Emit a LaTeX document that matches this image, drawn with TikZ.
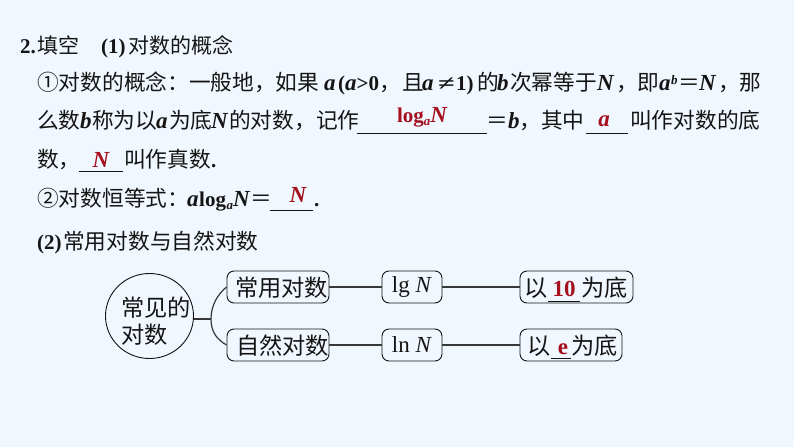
\documentclass[tikz,border=0pt]{standalone}
\usepackage{fontspec}
\usetikzlibrary{shapes.geometric}
\setmainfont{Liberation Serif}
\newfontfamily\cjk{Noto Sans CJK SC}
\newcommand{\C}[1]{{\cjk\fontsize{21.7pt}{24pt}\selectfont #1}}
\newcommand{\Ct}[1]{{\cjk\fontsize{21pt}{24pt}\selectfont #1}}
\newcommand{\Cb}[1]{{\cjk\fontsize{23.2pt}{26pt}\selectfont #1}}
\newcommand{\B}[1]{{\fontsize{21pt}{24pt}\selectfont\bfseries #1}}
\newcommand{\I}[1]{{\fontsize{23pt}{24pt}\selectfont\bfseries\itshape #1}}
\newcommand{\Sb}[1]{{\fontsize{13pt}{14pt}\selectfont\bfseries\itshape #1}}
\newcommand{\W}[2]{\makebox[#1pt][l]{#2}}
\definecolor{bg}{HTML}{F0F7FE}
\definecolor{ink}{HTML}{151515}
\definecolor{ans}{HTML}{A50F1E}
\tikzset{
 txt/.style={inner sep=0pt,anchor=base west,text=ink},
 anstxt/.style={inner sep=0pt,anchor=base,text=ans},
 blank/.style={draw=ink,line width=0.9pt},
 rbox/.style={draw=ink,line width=0.9pt,rounded corners=7pt,inner sep=0pt,fill=bg,text=ink},
 link/.style={draw=ink!85,line width=1.2pt}
}
\begin{document}
\begin{tikzpicture}[x=1pt,y=-1pt]
\path[use as bounding box,fill=bg] (0,0) rectangle (794,447);
% lines of text
\node[txt] (t0) at (20,53) {\W{17}{\B{2.}}\Ct{填空}};
\node[txt] (t0b) at (101,53) {\W{27}{\B{(1)}}\Ct{对数的概念}};
\node[txt] (l1a) at (37,90) {\W{287}{\C{①对数的概念：一般地，如果}}\W{14}{\I{a}}\B{(}\I{a}\B{>0}\C{，}};
\node[txt] (l1c) at (402,90) {\W{20}{\C{且}}\W{15}{\I{a}}\W{19}{\hspace{1pt}\scalebox{1.45}[1]{\B{≠}}}\W{21}{\B{1)}}\W{20}{\C{的}}\W{13}{\I{b}}\W{87}{\C{次幂等于}}\W{19}{\I{N}}\C{，}};
\node[txt] (l1d) at (637,90) {\W{22}{\C{即}}\W{12}{\I{a}}\raisebox{6pt}{\W{7}{\Sb{b}}}\W{21}{\C{＝}}\W{19}{\I{N}}\W{21}{\C{，}}\C{那}};
\node[txt] (l2a) at (37,128) {\W{43}{\C{么数}}\W{12}{\I{b}}\W{64}{\C{称为以}}\W{13}{\I{a}}\W{42}{\C{为底}}\W{18}{\I{N}}\C{的对数，记作}};
\node[txt] (l2b) at (486,128) {\W{22}{\C{＝}}\W{11}{\I{b}}\W{22}{\C{，}}\C{其中}};
\node[txt] (l2c) at (630,128) {\C{叫作对数的底}};
\node[txt] (l3a) at (37,167) {\C{数，}};
\node[txt] (l3b) at (124,167) {\C{叫作真数}\B{.}};
\node[txt] (l4a) at (37,206) {\W{150}{\C{②对数恒等式：}}\W{12}{\I{a}}\W{27.5}{\B{log}}\raisebox{-3pt}{\W{6.5}{\Sb{a}}}\W{17}{\I{N}}\C{＝}};
\node[txt] (l4b) at (314,206) {\B{.}};
\node[txt] (l5) at (37,249) {\W{26}{\B{(2)}}\C{常用对数与自然对数}};
% answers and blanks
\node[anstxt] (r1) at (422,122) {\B{log}\raisebox{-3pt}{\Sb{a}}\I{N}};
\node[anstxt] (r2) at (604,126) {\I{a}};
\node[anstxt] (r3) at (101,167) {\I{N}};
\node[anstxt] (r4) at (298,202) {\I{N}};
\coordinate (u1a) at (357,133); \coordinate (u1b) at (487,133);
\coordinate (u2a) at (586,133); \coordinate (u2b) at (628,133);
\coordinate (u3a) at (79,171);  \coordinate (u3b) at (123,171);
\coordinate (u4a) at (270,210); \coordinate (u4b) at (313,210);
\draw[blank] (u1a) -- (u1b);
\draw[blank] (u2a) -- (u2b);
\draw[blank] (u3a) -- (u3b);
\draw[blank] (u4a) -- (u4b);
% diagram
\node[draw=ink,line width=0.9pt,ellipse,minimum width=88pt,minimum height=85pt,inner sep=0pt,text=ink] (root) at (149.5,316) {};
\node[txt] (rt1) at (121,316) {\Cb{常见的}};
\node[txt] (rt2) at (121,343) {\Cb{对数}};
\node[rbox,minimum width=102pt,minimum height=32pt] (c1) at (278,287) {};
\node[rbox,minimum width=102pt,minimum height=32pt] (c2) at (278,345) {};
\node[txt] (c1t) at (235,296) {\Cb{常用对数}};
\node[txt] (c2t) at (236,354) {\Cb{自然对数}};
\node[rbox,minimum width=60pt,minimum height=32pt] (n1) at (412,287) {\fontsize{23pt}{24pt}\selectfont lg \textit{N}};
\node[rbox,minimum width=60pt,minimum height=32pt] (n2) at (412,345) {\fontsize{23pt}{24pt}\selectfont ln \textit{N}};
\node[rbox,minimum width=113pt,minimum height=32pt] (b1) at (576.5,287) {};
\node[rbox,minimum width=102pt,minimum height=32pt] (b2) at (571,345) {};
\node[txt] (b1a) at (524,296) {\Cb{以}};
\node[anstxt] (b1r) at (564,296) {\fontsize{23pt}{24pt}\selectfont\bfseries 10};
\node[txt] (b1c) at (581,296) {\Cb{为底}};
\node[txt] (b2a) at (527,354) {\Cb{以}};
\node[anstxt] (b2r) at (563,354) {\fontsize{23pt}{24pt}\selectfont\bfseries e};
\node[txt] (b2c) at (571,354) {\Cb{为底}};
\coordinate (u5a) at (548,301); \coordinate (u5b) at (580,301);
\coordinate (u6a) at (551,358); \coordinate (u6b) at (571,358);
\draw[blank] (u5a) -- (u5b);
\draw[blank] (u6a) -- (u6b);
\coordinate (fork) at (211,319);
\draw[link] (root.east |- fork) -- (fork);
\draw[link] (fork) .. controls (211,305) and (218,294) .. (c1.west);
\draw[link] (fork) .. controls (211,333) and (218,340) .. (c2.west);
\draw[link] (c1) -- (n1);
\draw[link] (c2) -- (n2);
\draw[link] (n1) -- (b1);
\draw[link] (n2) -- (b2);
\end{tikzpicture}
\end{document}
